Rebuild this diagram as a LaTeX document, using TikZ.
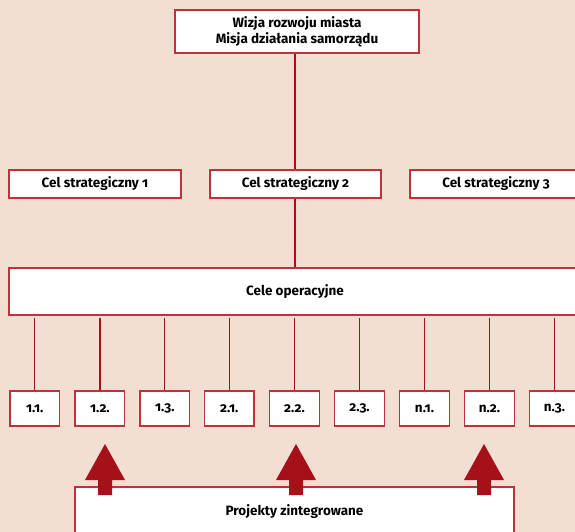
\documentclass[tikz,border=0pt]{standalone}
\usepackage{fontspec}
\setmainfont{Fira Sans}[Numbers=OldStyle]
\definecolor{bgpink}{RGB}{242,222,211}
\definecolor{darkred}{RGB}{166,16,24}
\definecolor{boxred}{RGB}{190,50,60}
\begin{document}
\begin{tikzpicture}[x=1pt,y=-1pt,
  box/.style={draw=boxred, line width=1.4pt, fill=white, inner sep=0pt,
    font=\fontsize{13.5}{16}\selectfont\bfseries, align=center},
  smallbox/.style={box, minimum width=49.5pt, minimum height=35pt},
  link/.style={draw=darkred, line width=1.2pt},
  uparrow/.pic={\fill[darkred] (-7,51) -- (7,51) -- (7,36) -- (20,36) -- (0,0) -- (-20,36) -- (-7,36) -- cycle;}]
\useasboundingbox (0,0) rectangle (575,532);
\clip (0,0) rectangle (575,532);
\fill[bgpink] (0,0) rectangle (575,532);

% top level
\node[box, minimum width=244pt, minimum height=43pt] (wizja) at (297,31.5)
  {Wizja rozwoju miasta\\Misja działania samorządu};

% strategic goals
\node[box, minimum width=172pt, minimum height=28pt] (cs1) at (95,184) {Cel strategiczny 1};
\node[box, minimum width=171pt, minimum height=28pt] (cs2) at (295.5,184) {Cel strategiczny 2};
\node[box, minimum width=172pt, minimum height=28pt] (cs3) at (496,184) {Cel strategiczny 3};

% operational goals
\node[box, minimum width=572pt, minimum height=47pt] (op) at (295,291.5) {Cele operacyjne};

% detailed goals
\foreach \lbl/\cx [count=\i] in {1.1./34.7, 1.2./99.9, 1.3./164.8, 2.1./229.3, 2.2./294.5,
    2.3./359.5, n.1./424.5, n.2./489.5, n.3./554.5} {
  \node[smallbox] (d\i) at (\cx,408.5) {\lbl};
  \draw[link] (op.south -| d\i.north) ++(0,2) -- (d\i.north);
}

% links between levels
\draw[link] (wizja.south -| 295,0) -- (cs2.north -| 295,0);
\draw[link] (cs2.south -| 295,0) -- (op.north -| 295,0);

% integrated projects
\node[box, minimum width=439pt, minimum height=50pt] (proj) at (294.5,512) {Projekty zintegrowane};

% arrows from projects to goals
\foreach \ax in {105,296,484}
  \pic at (\ax,444) {uparrow};
\end{tikzpicture}
\end{document}
